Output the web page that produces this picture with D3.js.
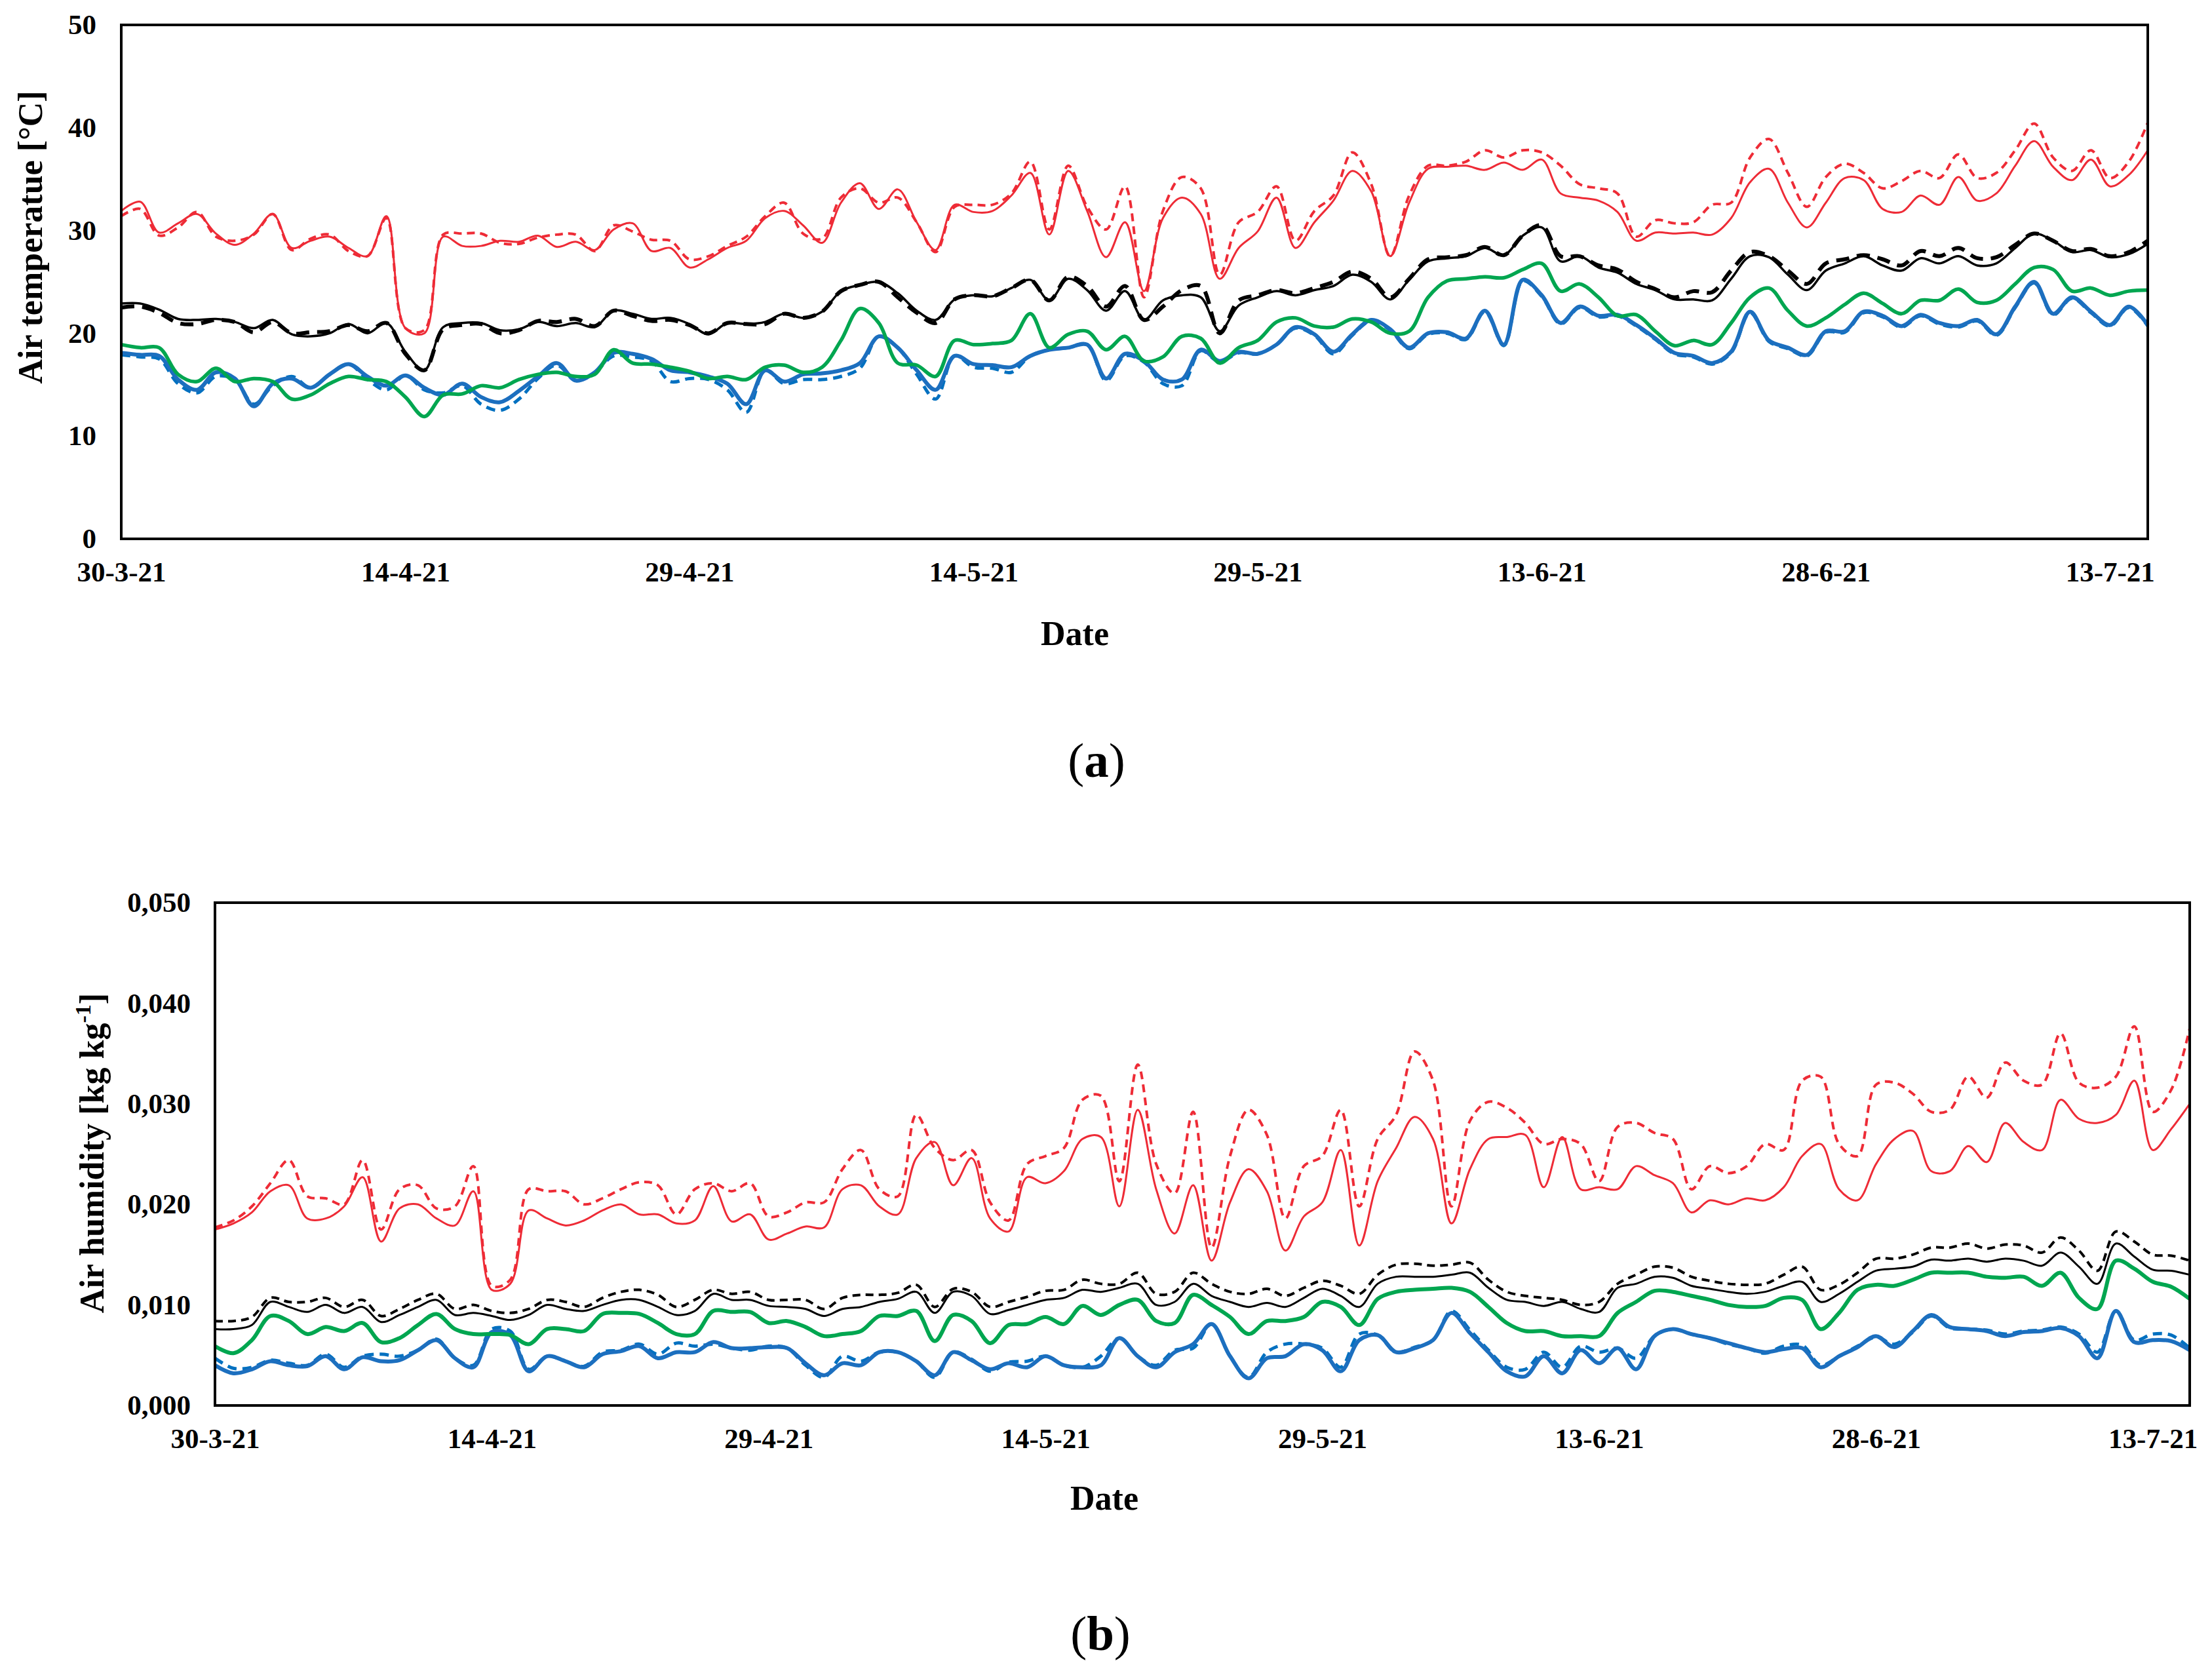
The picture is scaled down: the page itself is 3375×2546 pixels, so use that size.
<!DOCTYPE html>
<html>
<head>
<meta charset="utf-8">
<script src="https://cdn.jsdelivr.net/npm/d3@7"></script>
<style>
body { margin: 0; background: #fff; }
text { font-family: "Liberation Serif", "Times New Roman", serif; }
</style>
</head>
<body>
<script>
// daily values 30-3-21 .. 15-7-21 (108 days)

// (a) air temperature [°C]
var tempRedSolid = [31.9,32.8,29.8,30.7,31.6,29.7,28.6,29.7,31.6,28.3,
 29.0,29.4,28.3,27.5,31.4,20.5,20.0,29.4,28.5,28.5,
 29.0,28.9,29.5,28.4,28.9,28.1,30.1,30.7,28.0,28.3,
 26.4,27.2,28.3,29.0,31.2,31.9,30.5,28.8,32.7,34.6,
 32.1,34.0,30.8,28.1,32.5,31.8,31.9,33.4,35.6,29.6,
 35.8,31.9,27.4,30.8,24.1,31.2,33.2,31.6,25.3,28.3,
 29.9,33.2,28.3,30.8,32.9,35.8,33.8,27.5,32.7,36.0,
 36.2,36.3,35.9,36.6,35.9,36.9,33.6,33.2,32.9,31.8,
 29.0,29.8,29.7,29.8,29.6,31.2,34.7,36.0,32.7,30.3,
 32.7,35.1,34.9,32.1,31.8,33.4,32.5,35.2,32.9,33.6,
 36.3,38.7,36.2,34.9,36.9,34.3,35.4,37.8];
var tempRedDash = [31.4,32.1,29.5,30.3,31.8,29.4,29.0,29.6,31.6,28.1,
 29.2,29.6,28.0,27.5,31.2,20.5,20.3,29.6,29.7,29.7,
 28.8,28.7,29.3,29.6,29.6,28.0,30.5,29.9,29.1,29.0,
 27.2,27.5,28.5,29.4,31.4,32.7,29.7,29.2,33.2,34.1,
 32.7,33.2,30.8,27.9,32.3,32.5,32.5,33.6,36.7,30.1,
 36.3,32.3,30.1,34.3,23.5,31.9,35.2,34.1,25.7,30.8,
 31.8,34.3,29.0,31.9,33.4,37.6,34.5,27.5,33.4,36.3,
 36.3,36.7,37.8,37.1,37.8,37.6,36.3,34.5,34.1,33.6,
 29.4,31.0,30.7,30.8,32.5,32.7,37.1,38.9,35.6,32.3,
 35.2,36.5,35.6,34.1,34.8,35.8,35.1,37.4,35.1,35.6,
 37.8,40.4,37.1,35.8,37.8,35.1,36.7,40.5];
var tempBlackSolid = [22.9,22.9,22.3,21.4,21.3,21.4,21.1,20.5,21.3,19.9,
 19.7,20.0,20.9,20.0,21.0,18.2,16.4,20.6,21.0,21.0,
 20.3,20.4,21.1,20.7,21.0,20.6,22.2,21.9,21.4,21.5,
 20.9,19.9,21.0,20.9,21.1,21.9,21.5,22.1,24.1,24.7,
 25.0,23.9,22.2,21.3,23.3,23.7,23.6,24.4,25.2,23.2,
 25.3,24.2,22.2,24.1,21.3,23.2,23.7,23.5,20.2,22.7,
 23.5,24.1,23.7,24.2,24.6,25.7,25.0,23.3,25.2,27.0,
 27.3,27.5,28.3,27.6,29.5,30.3,27.0,27.5,26.4,25.9,
 24.8,24.2,23.3,23.3,23.2,25.3,27.5,27.4,25.7,24.2,
 26.1,26.8,27.5,26.6,26.1,27.3,26.8,27.5,26.6,26.8,
 28.3,29.7,29.0,27.9,28.1,27.4,27.7,28.7];
var tempBlackDash = [22.5,22.6,22.0,21.0,20.9,21.3,21.1,20.1,21.1,20.0,
 20.1,20.2,20.8,20.2,21.0,18.0,16.4,20.4,20.8,20.9,
 20.0,20.3,21.2,21.1,21.4,20.7,22.2,21.7,21.2,21.3,
 20.8,20.0,21.0,20.9,20.9,21.9,21.5,22.1,24.1,24.7,
 25.0,23.5,22.0,21.0,23.3,23.7,23.6,24.4,25.2,23.2,
 25.5,24.6,22.6,24.6,21.3,22.6,24.2,24.6,20.0,23.2,
 23.7,24.2,23.9,24.4,25.0,26.0,25.3,23.5,25.3,27.2,
 27.4,27.6,28.4,27.6,29.5,30.5,27.5,27.5,26.6,26.2,
 25.0,24.3,23.5,24.1,24.0,26.1,27.9,27.5,26.1,24.8,
 26.8,27.2,27.6,27.2,26.6,28.0,27.5,28.3,27.3,27.4,
 28.6,29.7,29.0,28.0,28.2,27.5,27.9,29.0];
var tempGreen = [18.9,18.6,18.6,16.0,15.3,16.6,15.3,15.6,15.3,13.6,
 14.0,15.1,15.8,15.5,15.3,13.8,11.9,14.0,14.1,14.9,
 14.7,15.5,16.0,16.2,15.8,16.0,18.4,17.1,17.0,16.7,
 16.3,15.6,15.8,15.5,16.7,16.9,16.2,16.7,19.3,22.4,
 21.0,17.1,16.9,15.8,19.3,18.9,19.0,19.3,21.9,18.6,
 19.9,20.2,18.4,19.7,17.3,17.7,19.7,19.5,17.1,18.6,
 19.3,21.1,21.5,20.7,20.6,21.4,21.1,20.0,20.2,23.5,
 25.1,25.3,25.5,25.4,26.2,26.8,24.1,24.8,23.5,21.7,
 21.8,20.2,18.8,19.3,18.9,21.0,23.5,24.4,22.2,20.7,
 21.5,22.8,23.9,22.9,21.9,23.2,23.2,24.3,23.0,23.2,
 24.8,26.4,26.2,24.1,24.4,23.7,24.1,24.2];
var tempBlueSolid = [18.1,17.9,17.8,15.5,14.5,16.2,15.6,12.9,15.1,15.6,
 14.7,16.0,17.0,15.8,14.9,15.9,14.7,14.0,15.1,13.8,
 13.3,14.4,15.8,17.1,15.4,16.2,18.1,18.0,17.5,16.4,
 16.2,15.8,15.1,13.1,16.4,15.3,16.0,16.1,16.4,17.1,
 19.7,18.6,16.4,14.5,17.8,17.0,16.9,16.7,17.8,18.4,
 18.6,18.9,15.6,18.0,17.3,15.5,15.5,18.4,17.3,18.2,
 18.0,18.9,20.6,19.9,18.2,19.9,21.3,20.4,18.6,20.0,
 20.1,19.5,22.2,18.9,25.2,23.7,21.0,22.6,21.7,21.8,
 20.8,19.5,18.1,17.8,17.1,18.2,22.1,19.3,18.6,17.9,
 20.2,20.2,22.1,21.7,20.7,21.8,21.0,20.7,21.3,19.9,
 22.6,25.0,21.9,23.5,22.1,20.8,22.6,20.8];
var tempBlueDash = [17.9,17.7,17.5,15.1,14.2,15.8,15.5,13.1,14.9,15.8,
 14.7,16.0,17.0,15.5,14.5,15.9,14.5,14.2,14.9,13.1,
 12.5,13.6,15.6,16.9,15.4,16.2,17.8,17.7,17.3,15.3,
 15.6,15.5,14.5,12.3,16.4,15.1,15.5,15.5,15.8,16.6,
 19.7,18.6,16.0,13.6,17.8,16.7,16.6,16.2,17.8,18.4,
 18.6,18.9,15.4,17.8,17.2,15.1,14.9,18.3,17.2,18.1,
 18.0,18.9,20.5,19.8,18.0,19.8,21.2,20.3,18.5,19.9,
 20.0,19.4,22.1,18.8,25.1,23.6,20.9,22.5,21.6,21.7,
 20.7,19.4,18.0,17.7,17.0,18.1,22.0,19.2,18.5,17.8,
 20.1,20.1,22.0,21.6,20.6,21.7,20.9,20.6,21.2,19.8,
 22.5,24.9,21.8,23.4,22.0,20.7,22.5,20.7];

// (b) air humidity [kg kg-1]
var humRedSolid = [0.0175,0.0181,0.0192,0.0213,0.0219,0.0186,0.0186,0.0198,0.0227,0.0163,
 0.0196,0.0200,0.0186,0.0179,0.0213,0.0115,0.0121,0.0194,0.0186,0.0179,
 0.0184,0.0194,0.0200,0.0190,0.0190,0.0181,0.0184,0.0218,0.0183,0.0190,
 0.0165,0.0171,0.0178,0.0177,0.0215,0.0219,0.0198,0.0190,0.0246,0.0262,
 0.0219,0.0246,0.0186,0.0173,0.0227,0.0221,0.0233,0.0265,0.0267,0.0198,
 0.0294,0.0215,0.0171,0.0219,0.0144,0.0202,0.0235,0.0213,0.0154,0.0188,
 0.0202,0.0254,0.0159,0.0223,0.0256,0.0287,0.0265,0.0181,0.0235,0.0265,
 0.0267,0.0269,0.0217,0.0267,0.0215,0.0217,0.0215,0.0238,0.0229,0.0221,
 0.0192,0.0204,0.0200,0.0206,0.0204,0.0217,0.0248,0.0260,0.0215,0.0204,
 0.0240,0.0265,0.0273,0.0233,0.0233,0.0258,0.0242,0.0281,0.0262,0.0254,
 0.0304,0.0285,0.0281,0.0289,0.0323,0.0254,0.0275,0.0300];
var humRedDash = [0.0177,0.0184,0.0198,0.0221,0.0244,0.0208,0.0206,0.0200,0.0244,0.0175,
 0.0215,0.0219,0.0196,0.0198,0.0238,0.0119,0.0125,0.0215,0.0213,0.0213,
 0.0200,0.0206,0.0215,0.0222,0.0219,0.0190,0.0215,0.0221,0.0213,0.0221,
 0.0188,0.0192,0.0202,0.0202,0.0235,0.0254,0.0215,0.0208,0.0289,0.0256,
 0.0244,0.0254,0.0202,0.0184,0.0240,0.0248,0.0256,0.0304,0.0308,0.0223,
 0.0339,0.0240,0.0211,0.0292,0.0157,0.0248,0.0294,0.0269,0.0186,0.0238,
 0.0248,0.0294,0.0198,0.0265,0.0289,0.0352,0.0323,0.0198,0.0283,0.0302,
 0.0296,0.0281,0.0260,0.0265,0.0260,0.0223,0.0277,0.0281,0.0271,0.0265,
 0.0215,0.0238,0.0231,0.0238,0.0260,0.0254,0.0323,0.0327,0.0260,0.0248,
 0.0319,0.0321,0.0310,0.0292,0.0294,0.0327,0.0306,0.0341,0.0323,0.0319,
 0.0370,0.0321,0.0316,0.0327,0.0377,0.0292,0.0314,0.0375];
var humBlackSolid = [0.0076,0.0076,0.0080,0.0103,0.0098,0.0093,0.0100,0.0092,0.0098,0.0083,
 0.0090,0.0098,0.0105,0.0090,0.0092,0.0089,0.0085,0.0090,0.0100,0.0096,
 0.0094,0.0100,0.0105,0.0105,0.0098,0.0090,0.0094,0.0111,0.0105,0.0105,
 0.0099,0.0098,0.0096,0.0089,0.0096,0.0098,0.0103,0.0106,0.0113,0.0092,
 0.0113,0.0109,0.0091,0.0095,0.0100,0.0105,0.0107,0.0115,0.0113,0.0117,
 0.0121,0.0100,0.0103,0.0121,0.0109,0.0103,0.0098,0.0102,0.0098,0.0107,
 0.0116,0.0109,0.0098,0.0121,0.0128,0.0128,0.0128,0.0130,0.0132,0.0117,
 0.0105,0.0103,0.0099,0.0103,0.0096,0.0093,0.0117,0.0121,0.0128,0.0127,
 0.0119,0.0116,0.0113,0.0111,0.0113,0.0119,0.0123,0.0103,0.0111,0.0123,
 0.0134,0.0136,0.0138,0.0145,0.0144,0.0146,0.0143,0.0146,0.0144,0.0139,
 0.0152,0.0138,0.0121,0.0161,0.0148,0.0135,0.0134,0.0130];
var humBlackDash = [0.0084,0.0084,0.0088,0.0107,0.0103,0.0103,0.0107,0.0098,0.0105,0.0089,
 0.0096,0.0105,0.0111,0.0096,0.0100,0.0094,0.0092,0.0096,0.0105,0.0103,
 0.0098,0.0107,0.0113,0.0115,0.0110,0.0098,0.0105,0.0115,0.0111,0.0113,
 0.0105,0.0105,0.0105,0.0096,0.0107,0.0110,0.0110,0.0112,0.0120,0.0098,
 0.0116,0.0113,0.0098,0.0103,0.0108,0.0114,0.0115,0.0125,0.0121,0.0121,
 0.0132,0.0111,0.0113,0.0132,0.0121,0.0113,0.0111,0.0116,0.0109,0.0117,
 0.0124,0.0119,0.0111,0.0130,0.0140,0.0141,0.0139,0.0140,0.0142,0.0125,
 0.0113,0.0109,0.0107,0.0105,0.0100,0.0103,0.0121,0.0130,0.0138,0.0137,
 0.0128,0.0124,0.0121,0.0120,0.0121,0.0130,0.0138,0.0115,0.0120,0.0132,
 0.0146,0.0146,0.0150,0.0157,0.0157,0.0161,0.0156,0.0160,0.0159,0.0152,
 0.0167,0.0154,0.0134,0.0173,0.0163,0.0150,0.0149,0.0144];
var humGreen = [0.0059,0.0052,0.0065,0.0089,0.0084,0.0071,0.0078,0.0074,0.0082,0.0063,
 0.0067,0.0080,0.0091,0.0076,0.0071,0.0071,0.0070,0.0061,0.0076,0.0076,
 0.0074,0.0091,0.0092,0.0091,0.0082,0.0071,0.0071,0.0094,0.0093,0.0093,
 0.0082,0.0084,0.0078,0.0069,0.0071,0.0074,0.0089,0.0089,0.0094,0.0064,
 0.0090,0.0084,0.0062,0.0080,0.0081,0.0088,0.0081,0.0099,0.0090,0.0100,
 0.0105,0.0084,0.0082,0.0110,0.0100,0.0088,0.0071,0.0084,0.0084,0.0088,
 0.0103,0.0098,0.0080,0.0106,0.0113,0.0115,0.0116,0.0117,0.0113,0.0098,
 0.0082,0.0074,0.0074,0.0069,0.0069,0.0069,0.0092,0.0103,0.0114,0.0113,
 0.0109,0.0105,0.0100,0.0098,0.0099,0.0107,0.0105,0.0076,0.0092,0.0115,
 0.0120,0.0119,0.0125,0.0132,0.0132,0.0132,0.0128,0.0127,0.0128,0.0119,
 0.0132,0.0107,0.0096,0.0144,0.0136,0.0123,0.0118,0.0106];
var humBlueSolid = [0.0040,0.0032,0.0036,0.0044,0.0040,0.0039,0.0049,0.0036,0.0048,0.0044,
 0.0045,0.0055,0.0065,0.0047,0.0038,0.0073,0.0070,0.0034,0.0049,0.0044,
 0.0038,0.0051,0.0054,0.0059,0.0047,0.0053,0.0053,0.0063,0.0057,0.0057,
 0.0058,0.0057,0.0042,0.0030,0.0042,0.0040,0.0053,0.0053,0.0044,0.0030,
 0.0053,0.0045,0.0036,0.0042,0.0038,0.0049,0.0040,0.0038,0.0040,0.0067,
 0.0049,0.0038,0.0053,0.0061,0.0081,0.0049,0.0027,0.0047,0.0049,0.0061,
 0.0055,0.0034,0.0065,0.0070,0.0053,0.0057,0.0065,0.0092,0.0072,0.0053,
 0.0034,0.0029,0.0049,0.0032,0.0055,0.0042,0.0057,0.0036,0.0069,0.0076,
 0.0071,0.0067,0.0062,0.0057,0.0053,0.0056,0.0057,0.0038,0.0049,0.0058,
 0.0069,0.0058,0.0074,0.0090,0.0078,0.0076,0.0074,0.0069,0.0073,0.0074,
 0.0077,0.0069,0.0047,0.0094,0.0063,0.0065,0.0064,0.0055];
var humBlueDash = [0.0047,0.0037,0.0038,0.0045,0.0042,0.0040,0.0051,0.0038,0.0049,0.0051,
 0.0049,0.0055,0.0066,0.0047,0.0040,0.0076,0.0074,0.0036,0.0049,0.0044,
 0.0039,0.0053,0.0055,0.0061,0.0051,0.0062,0.0059,0.0061,0.0057,0.0055,
 0.0059,0.0057,0.0040,0.0028,0.0049,0.0044,0.0053,0.0053,0.0044,0.0028,
 0.0053,0.0046,0.0034,0.0043,0.0044,0.0049,0.0040,0.0038,0.0049,0.0067,
 0.0049,0.0040,0.0055,0.0057,0.0081,0.0049,0.0028,0.0053,0.0061,0.0061,
 0.0057,0.0038,0.0071,0.0070,0.0053,0.0058,0.0065,0.0094,0.0075,0.0055,
 0.0038,0.0036,0.0053,0.0038,0.0059,0.0053,0.0057,0.0047,0.0069,0.0076,
 0.0071,0.0067,0.0061,0.0057,0.0052,0.0059,0.0060,0.0040,0.0049,0.0059,
 0.0068,0.0061,0.0073,0.0089,0.0077,0.0076,0.0075,0.0071,0.0074,0.0075,
 0.0078,0.0071,0.0053,0.0094,0.0065,0.0071,0.0070,0.0057];

// x axis ticks
var tickDates = ["2021-03-30","2021-04-14","2021-04-29","2021-05-14","2021-05-29","2021-06-13","2021-06-28","2021-07-13"];
var tickLabels = ["30-3-21","14-4-21","29-4-21","14-5-21","29-5-21","13-6-21","28-6-21","13-7-21"];
var tempTicks = [0, 10, 20, 30, 40, 50];
var humTicks = [0, 0.01, 0.02, 0.03, 0.04, 0.05];

var W = 3375, H = 2546;
var RED = "#EE2B36", BLACK = "#000", GREEN = "#00A650", BLUE = "#1C6FBF", BLUE2 = "#0070C0";

var svg = d3.select("body").append("svg")
	.attr("width", W)
	.attr("height", H);
svg.append("rect").attr("width", W).attr("height", H).attr("fill", "#fff");

var parse = d3.utcParse("%Y-%m-%d");
var days = d3.utcDay.range(parse("2021-03-30"), parse("2021-07-16")); // 108 days

function panel(p)
{// draw one framed plot
	var g = svg.append("g").attr("transform", "translate(" + p.left + "," + p.top + ")");
	var x = d3.scaleUtc().domain([days[0], days[days.length - 1]]).range([0, p.w]);
	var y = d3.scaleLinear().domain([0, p.yTicks[p.yTicks.length - 1]]).range([p.h, 0]);
	var line = d3.line()
		.x((d, i) => x(days[i]))
		.y(d => y(d))
		.curve(d3.curveCatmullRom.alpha(0.5));

	p.series.forEach(s => {
		g.append("path")
			.attr("d", line(s.values))
			.attr("fill", "none")
			.attr("stroke", s.color)
			.attr("stroke-width", s.width)
			.attr("stroke-dasharray", s.dash || null)
			.attr("stroke-linejoin", "round");
	});

	g.append("rect")
		.attr("width", p.w)
		.attr("height", p.h)
		.attr("fill", "none")
		.attr("stroke", "#000")
		.attr("stroke-width", 4);

	var xa = g.append("g")
		.attr("transform", "translate(0," + p.h + ")")
		.call(d3.axisBottom(x).tickValues(tickDates.map(parse)).tickFormat((d, i) => tickLabels[i]).tickSize(0).tickPadding(34));
	var ya = g.append("g")
		.call(d3.axisLeft(y).tickValues(p.yTicks).tickFormat(p.fmt).tickSize(0).tickPadding(p.pad));
	[xa, ya].forEach(a => {
		a.select(".domain").remove();
		a.selectAll("text")
			.attr("font-family", "Liberation Serif, Times New Roman, serif")
			.attr("font-size", 43)
			.attr("font-weight", "bold")
			.attr("fill", "#000");
	});
}

panel({
	left: 185, top: 38, w: 3092, h: 784, pad: 38,
	yTicks: tempTicks, fmt: d3.format("d"),
	series: [
		{values: tempBlueDash, color: BLUE2, width: 5, dash: "14,9"},
		{values: tempBlueSolid, color: BLUE, width: 6},
		{values: tempGreen, color: GREEN, width: 5.5},
		{values: tempBlackDash, color: BLACK, width: 6, dash: "20,12"},
		{values: tempBlackSolid, color: BLACK, width: 3.5},
		{values: tempRedDash, color: RED, width: 4, dash: "12,8"},
		{values: tempRedSolid, color: RED, width: 3}
	]
});

panel({
	left: 328, top: 1377, w: 3013, h: 767, pad: 37,
	yTicks: humTicks, fmt: d => d3.format(".3f")(d).replace(".", ","),
	series: [
		{values: humBlueDash, color: BLUE2, width: 5, dash: "14,9"},
		{values: humBlueSolid, color: BLUE, width: 6},
		{values: humGreen, color: GREEN, width: 6},
		{values: humBlackDash, color: BLACK, width: 4, dash: "12,8"},
		{values: humBlackSolid, color: BLACK, width: 3},
		{values: humRedDash, color: RED, width: 4, dash: "12,8"},
		{values: humRedSolid, color: RED, width: 3}
	]
});

// titles
function label(x, y, size, txt, rot)
{
	return svg.append("text")
		.attr("transform", "translate(" + x + "," + y + ")" + (rot ? " rotate(-90)" : ""))
		.attr("text-anchor", "middle")
		.attr("font-size", size)
		.attr("font-weight", "bold")
		.attr("fill", "#000")
		.text(txt);
}

label(64, 362, 52, "Air temperatue [°C]", true);
label(1640, 984, 52, "Date");

var hum = label(158, 1759, 52, "", true);
hum.append("tspan").text("Air humidity [kg kg");
hum.append("tspan").attr("font-size", 34).attr("dy", -20).text("-1");
hum.append("tspan").attr("dy", 20).text("]");
label(1685, 2303, 52, "Date");

// panel letters
[["a", 1673, 1185], ["b", 1679, 2517]].forEach(l => {
	var t = label(l[1], l[2], 75, "");
	t.append("tspan").attr("font-weight", "normal").text("(");
	t.append("tspan").text(l[0]);
	t.append("tspan").attr("font-weight", "normal").text(")");
});
</script>
</body>
</html>
